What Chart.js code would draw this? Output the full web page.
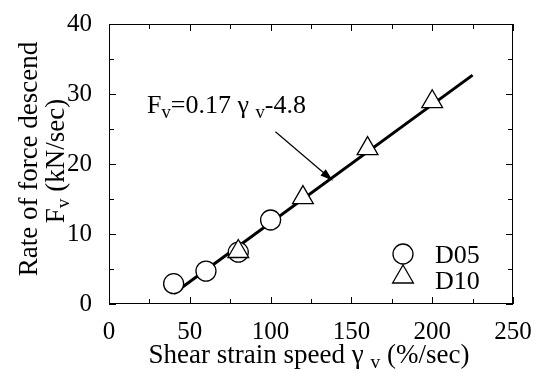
<!DOCTYPE html>
<html>
<head>
<meta charset="utf-8">
<script src="https://cdn.jsdelivr.net/npm/chart.js@4.4.1/dist/chart.umd.min.js"></script>
<style>
  html, body { margin: 0; padding: 0; background: #fff; }
  #wrap { width: 540px; height: 371px; }
</style>
</head>
<body>
<div id="wrap"><canvas id="mainChart" width="540" height="371"></canvas></div>
<script>
// data
const d05X = [40, 60, 80, 100];
const d05Y = [2.9, 4.7, 7.4, 12.0];
const d10X = [80, 120, 160, 200];
const d10Y = [7.5, 15.2, 22.2, 28.9];
const fitX = [40, 225];
const fitY = [1.5, 32.7];
const xTicks = [0, 50, 100, 150, 200, 250];
const yTicks = [0, 10, 20, 30, 40];

const FONT = '"Liberation Serif", "Times New Roman", serif';

// text made of pieces, some of them subscript
function richWidth(ctx, parts, size) {
    let w = 0;
    parts.forEach(p => {
        ctx.font = (p.sub ? size * 0.72 : size) + 'px ' + FONT;
        w += ctx.measureText(p.t).width;
    });
    return w;
}
function drawRich(ctx, parts, x, y, size) {
    let cx = x;
    parts.forEach(p => {
        ctx.font = (p.sub ? size * 0.72 : size) + 'px ' + FONT;
        ctx.fillText(p.t, cx, p.sub ? y + size * 0.2 : y);
        cx += ctx.measureText(p.t).width;
    });
}

const decorations = {
    id: 'decorations',
    afterDraw(chart) {
        const ctx = chart.ctx;
        const a = chart.chartArea;
        const xs = chart.scales.x, ys = chart.scales.y;
        ctx.save();
        ctx.strokeStyle = '#000';
        ctx.fillStyle = '#000';

        // frame
        ctx.lineWidth = 1;
        ctx.strokeRect(a.left + 0.5, a.top + 0.5, a.right - a.left - 1, a.bottom - a.top - 1);

        // inward ticks on all four sides
        ctx.beginPath();
        for (let v = 0; v <= 250; v += 25) {
            const px = Math.round(xs.getPixelForValue(v)) + 0.5;
            const len = v % 50 === 0 ? 7 : 5;
            ctx.moveTo(px, a.bottom); ctx.lineTo(px, a.bottom - len);
            ctx.moveTo(px, a.top); ctx.lineTo(px, a.top + len);
        }
        for (let v = 0; v <= 40; v += 5) {
            const py = Math.round(ys.getPixelForValue(v)) + 0.5;
            const len = v % 10 === 0 ? 7 : 5;
            ctx.moveTo(a.left, py); ctx.lineTo(a.left + len, py);
            ctx.moveTo(a.right, py); ctx.lineTo(a.right - len, py);
        }
        ctx.stroke();

        ctx.textBaseline = 'alphabetic';
        ctx.textAlign = 'left';

        // x axis title
        const xt = [{ t: 'Shear strain speed \u03b3 ' }, { t: 'v', sub: true }, { t: ' (%/sec)' }];
        const xw = richWidth(ctx, xt, 27);
        drawRich(ctx, xt, 309 - xw / 2, 363, 27);

        // y axis title, two rotated lines
        ctx.save();
        ctx.rotate(-Math.PI / 2);
        const y1 = [{ t: 'Rate of force descend' }];
        const w1 = richWidth(ctx, y1, 27);
        drawRich(ctx, y1, -159 - w1 / 2, 37, 27);
        const y2 = [{ t: 'F' }, { t: 'v', sub: true }, { t: ' (kN/sec)' }];
        const w2 = richWidth(ctx, y2, 27);
        drawRich(ctx, y2, -161 - w2 / 2, 64, 27);
        ctx.restore();

        // equation label and arrow
        const eq = [{ t: 'F' }, { t: 'v', sub: true }, { t: '=0.17 \u03b3 ' }, { t: 'v', sub: true }, { t: '-4.8' }];
        drawRich(ctx, eq, 147, 113, 26);

        const x0 = xs.getPixelForValue(103), y0 = ys.getPixelForValue(24.6);
        const x1 = xs.getPixelForValue(138.6), y1p = ys.getPixelForValue(17.6);
        const ang = Math.atan2(y1p - y0, x1 - x0);
        ctx.lineWidth = 1.2;
        ctx.beginPath();
        ctx.moveTo(x0, y0);
        ctx.lineTo(x1 - 10 * Math.cos(ang), y1p - 10 * Math.sin(ang));
        ctx.stroke();
        ctx.beginPath();
        ctx.moveTo(x1, y1p);
        ctx.lineTo(x1 - 13 * Math.cos(ang) + 4 * Math.sin(ang), y1p - 13 * Math.sin(ang) - 4 * Math.cos(ang));
        ctx.lineTo(x1 - 13 * Math.cos(ang) - 4 * Math.sin(ang), y1p - 13 * Math.sin(ang) + 4 * Math.cos(ang));
        ctx.closePath();
        ctx.fill();

        // legend
        ctx.lineWidth = 1.3;
        ctx.fillStyle = '#fff';
        ctx.beginPath();
        ctx.arc(403, 254, 10, 0, Math.PI * 2);
        ctx.fill(); ctx.stroke();
        ctx.beginPath();
        ctx.moveTo(403, 265);
        ctx.lineTo(403 + 10.4, 283);
        ctx.lineTo(403 - 10.4, 283);
        ctx.closePath();
        ctx.fill(); ctx.stroke();
        ctx.fillStyle = '#000';
        ctx.font = '26px ' + FONT;
        ctx.fillText('D05', 435, 263);
        ctx.fillText('D10', 435, 289);

        ctx.restore();
    }
};

new Chart(document.getElementById('mainChart'), {
    type: 'scatter',
    data: {
        datasets: [
            {
                label: 'D10',
                data: d10X.map((x, i) => ({ x: x, y: d10Y[i] })),
                pointStyle: 'triangle',
                pointRadius: 12,
                backgroundColor: '#fff',
                borderColor: '#000',
                borderWidth: 1.3,
                order: 1
            },
            {
                label: 'D05',
                data: d05X.map((x, i) => ({ x: x, y: d05Y[i] })),
                pointStyle: 'circle',
                pointRadius: 10,
                backgroundColor: '#fff',
                borderColor: '#000',
                borderWidth: 1.3,
                order: 2
            },
            {
                label: 'fit',
                data: fitX.map((x, i) => ({ x: x, y: fitY[i] })),
                showLine: true,
                pointRadius: 0,
                borderColor: '#000',
                borderWidth: 3,
                order: 3
            }
        ]
    },
    options: {
        responsive: false,
        animation: false,
        devicePixelRatio: 1,
        layout: { padding: { top: 17, right: 27, left: 0, bottom: 0 } },
        plugins: { legend: { display: false }, tooltip: { enabled: false } },
        scales: {
            x: {
                type: 'linear', min: 0, max: 250,
                afterBuildTicks: s => { s.ticks = xTicks.map(v => ({ value: v })); },
                afterFit: s => { s.height = 67; },
                grid: { display: false },
                border: { display: false },
                ticks: { color: '#000', padding: 5, maxRotation: 0, font: { family: FONT, size: 25 } }
            },
            y: {
                type: 'linear', min: 0, max: 40,
                afterBuildTicks: s => { s.ticks = yTicks.map(v => ({ value: v })); },
                afterFit: s => { s.width = 109; },
                grid: { display: false },
                border: { display: false },
                ticks: { color: '#000', padding: 9, font: { family: FONT, size: 25 } }
            }
        }
    },
    plugins: [decorations]
});
</script>
</body>
</html>
